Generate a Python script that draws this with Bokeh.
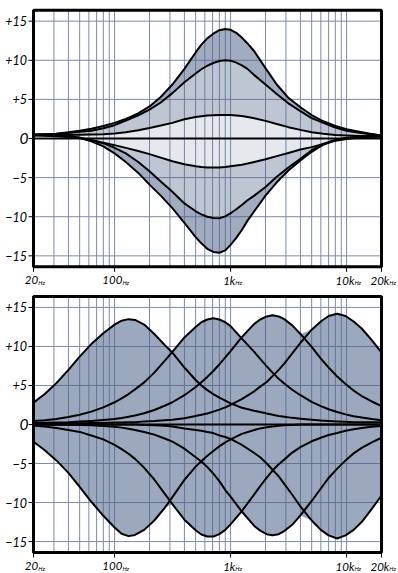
import numpy as np
from bokeh.plotting import figure
from bokeh.layouts import column
from bokeh.models import Range1d, ColumnDataSource
from bokeh.core.properties import value
from bokeh.embed import file_html
from bokeh.resources import INLINE

FONT = "Lato"

# ---------------- axes / ticks ----------------
x_ticks = [20, 100, 1000, 10000, 20000]
x_tick_numbers = ["20", "100", "1k", "10k", "20k"]
x_unit = "Hz"
x_grid = [20, 30, 40, 50, 60, 70, 80, 90, 100, 200, 300, 400, 500, 600, 700, 800, 900,
          1000, 2000, 3000, 4000, 5000, 6000, 7000, 8000, 9000, 10000, 20000]
y_ticks = [15, 10, 5, 0, -5, -10, -15]
y_tick_labels = ["+15", "+10", "+5", "0", "\u22125", "\u221210", "\u221215"]
db_range = (-16.4, 16.4)
freq_range = (20, 20000)

# ---------------- top chart: one band, several gains ----------------
top_freq_hz = [20, 25, 31.5, 40, 50, 63, 80, 100, 125, 160, 200, 250, 315, 400, 500, 560, 630, 710,
               800, 900, 1000, 1120, 1250, 1400, 1600, 2000, 2500, 3150, 4000, 5000, 6300, 8000,
               10000, 12500, 16000, 20000]
boost_max = [0.5, 0.55, 0.6, 0.8, 1.0, 1.25, 1.6, 2.0, 2.5, 3.2, 4.1, 5.3, 6.9, 8.9, 11.0, 12.0, 12.8, 13.4,
             13.85, 14.0, 13.9, 13.5, 12.9, 12.15, 11.15, 9.0, 6.9, 5.2, 4.0, 3.0, 2.2, 1.6,
             1.2, 0.9, 0.6, 0.4]
boost_mid = [0.5, 0.55, 0.6, 0.7, 0.85, 1.0, 1.3, 1.7, 2.3, 2.95, 3.7, 4.6, 5.8, 7.2, 8.3, 8.85, 9.3, 9.65,
             9.9, 10.0, 9.95, 9.7, 9.35, 8.9, 8.1, 6.9, 5.7, 4.5, 3.5, 2.6, 2.0, 1.4,
             1.0, 0.75, 0.55, 0.4]
boost_min = [0.45, 0.45, 0.45, 0.45, 0.48, 0.5, 0.55, 0.65, 0.8, 1.05, 1.35, 1.65, 2.0, 2.45, 2.75, 2.85, 2.93, 2.98,
             3.0, 3.0, 3.0, 2.95, 2.88, 2.75, 2.6, 2.25, 1.85, 1.45, 1.1, 0.8, 0.6, 0.45,
             0.38, 0.33, 0.3, 0.3]
cut_min = [0.4, 0.35, 0.3, 0.2, 0.05, -0.2, -0.55, -0.85, -1.2, -1.6, -2.0, -2.45, -2.9, -3.3, -3.55, -3.65, -3.7, -3.72,
           -3.7, -3.65, -3.55, -3.45, -3.35, -3.2, -3.0, -2.65, -2.25, -1.85, -1.4, -1.1, -0.7, -0.3,
           -0.05, 0.1, 0.2, 0.3]
cut_mid = [0.4, 0.4, 0.35, 0.3, 0.1, -0.25, -0.6, -1.2, -1.9, -3.0, -4.2, -5.5, -6.8, -8.3, -9.3, -9.7, -10.0, -10.15,
           -10.2, -9.95, -9.55, -9.05, -8.5, -7.9, -7.3, -6.2, -4.9, -3.7, -2.6, -1.5, -0.7, -0.15,
           0.05, 0.2, 0.3, 0.3]
cut_max = [0.4, 0.4, 0.35, 0.3, 0.1, -0.35, -1.0, -1.9, -3.0, -4.4, -5.9, -7.3, -8.9, -10.8, -12.6, -13.4, -14.1, -14.5,
           -14.6, -14.3, -13.6, -12.7, -11.7, -10.5, -9.3, -7.3, -5.6, -4.1, -2.8, -1.7, -0.8, -0.2,
           0.05, 0.2, 0.3, 0.3]

# ---------------- bottom chart: four bands, full boost / cut ----------------
bot_freq_hz = [20, 25, 31.5, 40, 50, 63, 80, 100, 115, 132, 150, 180, 220, 270, 315, 400, 500, 560, 630, 710,
               800, 900, 1000, 1250, 1600, 1800, 2050, 2300, 2600, 2900, 3400, 4000, 5000, 6000, 7000, 8300,
               9800, 11500, 13500, 16500, 20000]
band1_boost = [2.8, 3.9, 5.3, 7.0, 8.7, 10.3, 11.7, 12.8, 13.3, 13.5, 13.4, 12.8, 11.6, 10.2, 9.2, 7.3, 5.7, 5.0, 4.4, 3.9,
               3.45, 3.05, 2.7, 2.15, 1.75, 1.6, 1.4, 1.25, 1.1, 1.0, 0.85, 0.75, 0.6, 0.5, 0.45, 0.4,
               0.35, 0.3, 0.3, 0.3, 0.3]
band1_cut = [-2.2, -3.3, -4.6, -6.2, -8.0, -9.9, -11.7, -13.2, -14.0, -14.3, -14.15, -13.5, -12.3, -10.7, -9.3, -7.1, -5.4, -4.7, -4.0, -3.4,
             -2.8, -2.3, -1.9, -1.2, -0.7, -0.5, -0.35, -0.25, -0.15, -0.1, -0.05, 0.0, 0.0, 0.0, 0.0, 0.0,
             0.0, 0.0, 0.0, 0.0, 0.0]
band2_boost = [0.45, 0.55, 0.7, 0.95, 1.25, 1.65, 2.2, 2.85, 3.35, 3.9, 4.5, 5.4, 6.65, 8.15, 9.3, 11.15, 12.5, 13.1, 13.45, 13.6,
               13.45, 13.1, 12.6, 11.0, 9.3, 8.4, 7.45, 6.65, 5.85, 5.25, 4.45, 3.75, 2.9, 2.35, 1.95, 1.6,
               1.3, 1.05, 0.9, 0.7, 0.55]
band2_cut = [-0.15, -0.25, -0.45, -0.7, -0.95, -1.4, -1.9, -2.6, -3.15, -3.75, -4.4, -5.55, -7.05, -8.85, -10.2, -12.2, -13.55, -14.1, -14.35, -14.35,
             -14.05, -13.5, -12.8, -11.1, -8.95, -7.9, -6.8, -5.9, -5.1, -4.5, -3.6, -2.9, -2.15, -1.7, -1.35, -1.1,
             -0.8, -0.6, -0.45, -0.3, -0.2]
band3_boost = [0.2, 0.22, 0.25, 0.3, 0.38, 0.46, 0.57, 0.7, 0.84, 1.0, 1.16, 1.44, 1.86, 2.4, 2.85, 3.75, 4.8, 5.4, 6.1, 6.85,
               7.7, 8.6, 9.4, 11.2, 12.9, 13.45, 13.85, 14.0, 13.85, 13.5, 12.7, 11.6, 9.95, 8.45, 7.3, 6.15,
               5.2, 4.35, 3.65, 2.95, 2.35]
band3_cut = [0.0, 0.0, 0.0, -0.03, -0.05, -0.1, -0.2, -0.3, -0.4, -0.55, -0.7, -0.95, -1.3, -1.8, -2.2, -3.1, -4.2, -4.75, -5.45, -6.3,
             -7.25, -8.4, -9.25, -11.15, -13.0, -13.6, -14.05, -14.2, -14.05, -13.65, -12.85, -11.65, -9.8, -8.2, -6.85, -5.65,
             -4.6, -3.7, -3.0, -2.3, -1.7]
band4_boost = [0.1, 0.1, 0.1, 0.15, 0.15, 0.2, 0.2, 0.25, 0.25, 0.3, 0.3, 0.4, 0.45, 0.55, 0.6, 0.8, 1.1, 1.25, 1.4, 1.65,
               1.9, 2.2, 2.5, 3.25, 4.25, 4.85, 5.45, 6.2, 7.0, 7.8, 9.1, 10.45, 12.15, 13.2, 13.9, 14.2,
               13.9, 13.2, 12.3, 10.8, 9.2]
band4_cut = [0.0, 0.0, 0.0, 0.0, 0.0, 0.0, 0.0, 0.0, 0.0, 0.0, 0.0, -0.05, -0.1, -0.15, -0.25, -0.5, -0.7, -0.8, -0.95, -1.1,
             -1.4, -1.6, -1.85, -2.6, -3.65, -4.2, -5.0, -5.8, -6.65, -7.6, -9.0, -10.5, -12.3, -13.5, -14.2, -14.6,
             -14.2, -13.5, -12.5, -10.8, -9.1]

# ---------------- layout / style ----------------
W = 398
BOX_LEFT, BOX_RIGHT = 33, 381
GRID = "#7d8ba5"
BASE = "#4a6088"
TICK_LEN = 5
LABEL_DROP = 13.5      # px from chart box to the middle of the x labels
UNIT_DROP = 2.4        # small unit sits on the same baseline


def chart(height, box_top, box_bottom):
    u = (db_range[1] - db_range[0]) / (box_bottom - box_top)          # dB per pixel
    lf0, lf1 = np.log10(freq_range[0]), np.log10(freq_range[1])
    dpp = (lf1 - lf0) / (BOX_RIGHT - BOX_LEFT)                          # decades per pixel
    xr = Range1d(10 ** (lf0 - BOX_LEFT * dpp), 10 ** (lf1 + (W - BOX_RIGHT) * dpp))
    yr = Range1d(db_range[0] - (height - box_bottom) * u, db_range[1] + box_top * u)
    p = figure(width=W, height=height, x_axis_type="log", x_range=xr, y_range=yr,
               x_axis_location=None, y_axis_location=None,
               min_border=0, min_border_left=0, min_border_right=0, min_border_top=0, min_border_bottom=0,
               output_backend="svg", toolbar_location=None,
               background_fill_color="white", border_fill_color="white")
    p.outline_line_color = None
    p.grid.visible = False

    ng, ny = len(x_grid), len(y_ticks)
    p.segment(x0=x_grid, y0=[db_range[0]] * ng, x1=x_grid, y1=[db_range[1]] * ng,
              line_color=GRID, line_width=1)
    p.segment(x0=[freq_range[0]] * ny, y0=y_ticks, x1=[freq_range[1]] * ny, y1=y_ticks,
              line_color=GRID, line_width=1)
    return p, u, dpp


def finish(p, u, dpp):
    p.segment(x0=[freq_range[0]], y0=[0], x1=[freq_range[1]], y1=[0], line_color="black", line_width=2)
    p.quad(left=[freq_range[0]], right=[freq_range[1]], bottom=[db_range[0]], top=[db_range[1]],
           fill_color=None, line_color="black", line_width=3)
    nx, ny = len(x_ticks), len(y_ticks)
    p.segment(x0=x_ticks, y0=[db_range[0]] * nx, x1=x_ticks, y1=[db_range[0] - TICK_LEN * u] * nx,
              line_color="black", line_width=1)
    x_left_tick = 10 ** (np.log10(freq_range[0]) - TICK_LEN * dpp)
    p.segment(x0=[freq_range[0]] * ny, y0=y_ticks, x1=[x_left_tick] * ny, y1=y_ticks,
              line_color="black", line_width=1)
    ysrc = ColumnDataSource(dict(
        x=[10 ** (np.log10(freq_range[0]) - (5 if t == "0" else 6.5) * dpp) for t in y_tick_labels],
        y=y_ticks, text=y_tick_labels,
        size=["15.5px" if t == "0" else "12.5px" for t in y_tick_labels]))
    p.text(x="x", y="y", text="text", source=ysrc, text_align="right", text_baseline="middle",
           text_font=value(FONT), text_font_style="italic", text_font_size="size", text_color="black")
    ends = [v * 10 ** ((3.1 * len(n) - 1.5) * dpp) for v, n in zip(x_ticks, x_tick_numbers)]
    ynum = [db_range[0] - LABEL_DROP * u] * nx
    yunit = [db_range[0] - (LABEL_DROP + UNIT_DROP) * u] * nx
    p.text(x=ends, y=ynum, text=x_tick_numbers, text_align="right", text_baseline="middle",
           text_font=value(FONT), text_font_style="italic", text_font_size=value("11.5px"),
           text_color="black")
    p.text(x=ends, y=yunit, text=[x_unit] * nx, text_align="left", text_baseline="middle",
           text_font=value(FONT), text_font_style="italic", text_font_size=value("6px"),
           text_color="black")


# ---- top ----
p1, u1, d1 = chart(288, 9.7, 266.3)
bands_top = [(boost_mid, boost_max, 0.52), (boost_min, boost_mid, 0.36), (cut_min, boost_min, 0.14),
             (cut_mid, cut_min, 0.36), (cut_max, cut_mid, 0.52)]
for lo, hi, a in bands_top:
    p1.varea(x=top_freq_hz, y1=lo, y2=hi, fill_color=BASE, fill_alpha=a)
for curve in (boost_max, boost_mid, boost_min, cut_min, cut_mid, cut_max):
    p1.line(top_freq_hz, curve, line_color="black", line_width=2, line_join="round")
finish(p1, u1, d1)

# ---- bottom ----
p2, u2, d2 = chart(285, 8, 264)
boosts = [band1_boost, band2_boost, band3_boost, band4_boost]
cuts = [band1_cut, band2_cut, band3_cut, band4_cut]
upper_env = np.max(np.array(boosts), axis=0)
lower_env = np.min(np.array(cuts), axis=0)
p2.varea(x=bot_freq_hz, y1=lower_env, y2=upper_env, fill_color=BASE, fill_alpha=0.55)
for curve in boosts + cuts:
    p2.line(bot_freq_hz, curve, line_color="black", line_width=2, line_join="round")
finish(p2, u2, d2)

layout = column(p1, p2, spacing=0)
open("out.html", "w").write(file_html(layout, INLINE, "EQ curves"))
